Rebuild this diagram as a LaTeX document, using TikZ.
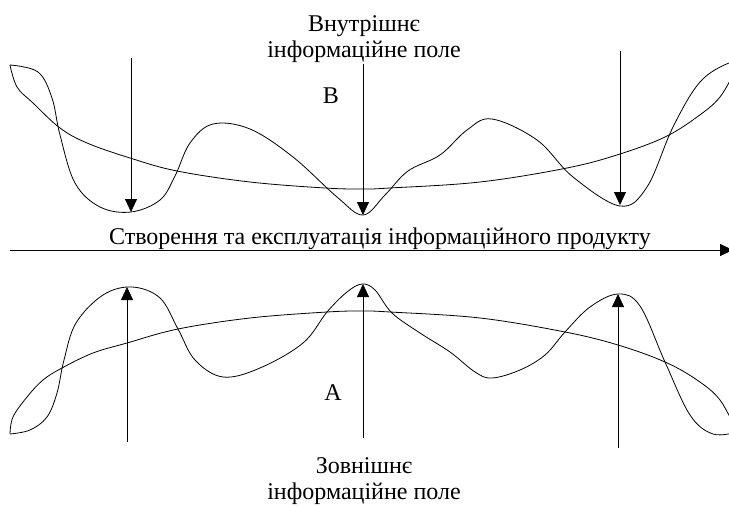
\documentclass[tikz,border=0pt]{standalone}
\usepackage{fontspec}
\setmainfont{Liberation Serif}
\usetikzlibrary{arrows.meta, positioning}

\begin{document}
\begin{tikzpicture}[x=1pt, y=-1pt,
      fieldtext/.style={inner sep=0pt, align=center, font=\fontsize{24}{26}\selectfont},
      arrow/.style={-{Triangle[length=13pt, width=12pt]}, line width=0.8pt},
      curve/.style={line width=0.8pt, smooth, tension=0.6},
    ]
    \useasboundingbox (0,0) rectangle (729,506);

    % texts
    \node[fieldtext, anchor=north] (inner) at (364,15) {Внутрішнє\\інформаційне поле};
    \node[fieldtext, anchor=north] (outer) at (364,457) {Зовнішнє\\інформаційне поле};
    \node[fieldtext, anchor=base] (axistext) at (380,244) {Створення та експлуатація інформаційного продукту};
    \node[fieldtext, anchor=base] (fieldB) at (331,103) {В};
    \node[fieldtext, anchor=base] (fieldA) at (333,400) {А};

    % arrow ends
    \coordinate (t1) at (131,58);  \coordinate (t1e) at (131,212);
    \coordinate (t2) at (363,64);  \coordinate (t2e) at (363,215);
    \coordinate (t3) at (620,51);  \coordinate (t3e) at (620,205);
    \coordinate (b1) at (127,442); \coordinate (b1e) at (127,287);
    \coordinate (b2) at (363,438); \coordinate (b2e) at (363,284);
    \coordinate (b3) at (618,448); \coordinate (b3e) at (618,294);
    \coordinate (axisstart) at (10,250); \coordinate (axisend) at (733,250);

    % upper field
    \draw[curve] plot coordinates {(10,65) (38,72) (52,98) (60,135) (75,183) (100,207) (131,212) (160,200) (175,176) (190,143) (213,124) (250,129) (293,157) (337,197) (363,215) (385,195) (408,171) (440,155) (467,130) (492,119) (537,140) (573,177) (620,206) (647,187) (673,127) (700,82) (729,63) (737,67)};
    \draw[curve] plot coordinates {(10,65) (17,87) (33,103) (60,128) (87,143) (130,158) (177,171) (250,182) (325,188) (363,189) (390,188) (480,182) (567,168) (620,154) (665,137) (697,117) (720,97) (737,67)};

    % lower field
    \draw[curve] plot coordinates {(10,434) (30,430) (47,417) (57,393) (64,360) (76,323) (103,295) (132,287) (160,298) (178,329) (195,360) (223,377) (260,368) (303,343) (327,312) (347,292) (362,284) (375,290) (392,313) (420,333) (450,352) (475,372) (492,378) (520,370) (545,355) (565,332) (590,307) (618,294) (640,306) (665,362) (690,415) (713,434) (737,432)};
    \draw[curve] plot coordinates {(10,434) (13,417) (27,397) (43,380) (62,368) (93,353) (127,343) (178,329) (250,318) (327,312) (363,311) (390,312) (480,318) (565,332) (618,345) (665,362) (697,380) (720,400) (737,432)};

    % arrows
    \draw[arrow] (t1) -- (t1e);
    \draw[arrow] (t2) -- (t2e);
    \draw[arrow] (t3) -- (t3e);
    \draw[arrow] (b1) -- (b1e);
    \draw[arrow] (b2) -- (b2e);
    \draw[arrow] (b3) -- (b3e);
    \draw[arrow] (axisstart) -- (axisend);
  \end{tikzpicture}
\end{document}
